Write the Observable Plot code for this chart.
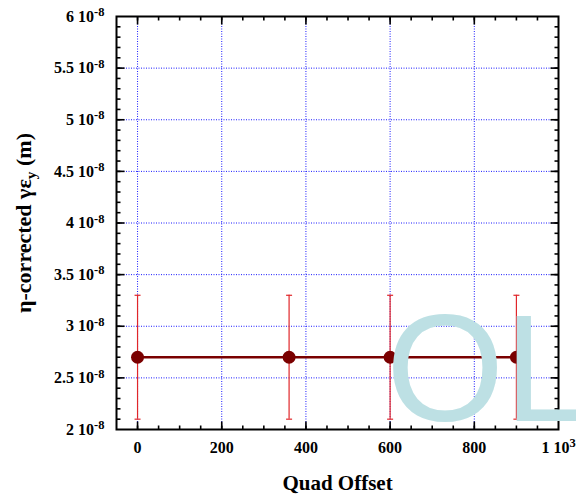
<!DOCTYPE html>
<html><head><meta charset="utf-8">
<script src="https://cdn.jsdelivr.net/npm/d3@7"></script>
<script src="https://cdn.jsdelivr.net/npm/@observablehq/plot@0.6"></script>
<style>
body{margin:0;background:#fff;}
#chart{position:relative;width:576px;height:500px;overflow:hidden;}
</style></head><body><div id="chart"></div>
<script>
// ---- data ----
const offsets   = [0, 360, 600, 900];
const emittance = [2.7e-8, 2.7e-8, 2.7e-8, 2.7e-8];
const errLow    = [2.1e-8, 2.1e-8, 2.1e-8, 2.1e-8];
const errHigh   = [3.3e-8, 3.3e-8, 3.3e-8, 3.3e-8];
const xTicks      = [0, 200, 400, 600, 800, 1000];
const xTickLabels = ["0", "200", "400", "600", "800", "1 10^{3}"];
const yTicks      = [2e-8, 2.5e-8, 3e-8, 3.5e-8, 4e-8, 4.5e-8, 5e-8, 5.5e-8, 6e-8];
const yTickLabels = ["2 10^{-8}", "2.5 10^{-8}", "3 10^{-8}", "3.5 10^{-8}", "4 10^{-8}", "4.5 10^{-8}", "5 10^{-8}", "5.5 10^{-8}", "6 10^{-8}"];
const xLabel = "Quad Offset";
const yLabel = "η-corrected γε_{y} (m)";
const watermark = "OL";

const xMinor = d3.range(0, 1000, 50);
const yMinor = d3.range(21, 60).map(k => k / 10 * 1e-8);
const xGrid = xTicks.slice(0, -1);
const yGrid = yTicks.slice(1, -1);

const data = offsets.map((x, i) => ({x, y: emittance[i], lo: errLow[i], hi: errHigh[i]}));
const xLab = new Map(xTicks.map((t, i) => [t, xTickLabels[i]]));
const yLab = new Map(yTicks.map((t, i) => [t, yTickLabels[i]]));

const seg = (dx, dy) => ({draw(ctx) { ctx.moveTo(0, 0); ctx.lineTo(dx, dy); }});
const cap = {draw(ctx) { ctx.moveTo(-3, 0); ctx.lineTo(3, 0); }};
const tickStyle = {fill: "none", stroke: "black", strokeWidth: 1.6};

const plot = Plot.plot({
  width: 576, height: 500,
  marginLeft: 116, marginRight: 18, marginTop: 16, marginBottom: 71,
  x: {domain: [-50, 1000]},
  y: {domain: [2e-8, 6e-8]},
  style: {fontFamily: "'Liberation Serif', 'Times New Roman', serif", fontWeight: "bold", background: "white", color: "black"},
  marks: [
    Plot.ruleX(xGrid, {stroke: "#1a1aff", strokeWidth: 1, strokeDasharray: "1,1.5"}),
    Plot.ruleY(yGrid, {stroke: "#1a1aff", strokeWidth: 1, strokeDasharray: "1,1.5"}),
    Plot.ruleX(data, {x: "x", y1: "lo", y2: "hi", stroke: "#e0262a", strokeWidth: 1.2}),
    Plot.dot(data, {x: "x", y: "lo", symbol: cap, fill: "none", stroke: "#e0262a", strokeWidth: 1.2}),
    Plot.dot(data, {x: "x", y: "hi", symbol: cap, fill: "none", stroke: "#e0262a", strokeWidth: 1.2}),
    Plot.line(data, {x: "x", y: "y", stroke: "#7a0000", strokeWidth: 2.5}),
    Plot.dot(data, {x: "x", y: "y", r: 6.5, fill: "#7a0000", stroke: "none"}),
    // inward ticks
    Plot.dot(xMinor, {x: d => d, y: () => 2e-8, symbol: seg(0, -4), ...tickStyle}),
    Plot.dot(xMinor, {x: d => d, y: () => 6e-8, symbol: seg(0, 4), ...tickStyle}),
    Plot.dot(xGrid, {x: d => d, y: () => 2e-8, symbol: seg(0, -8), ...tickStyle}),
    Plot.dot(xGrid, {x: d => d, y: () => 6e-8, symbol: seg(0, 8), ...tickStyle}),
    Plot.dot(yMinor, {y: d => d, x: () => -50, symbol: seg(4, 0), ...tickStyle}),
    Plot.dot(yMinor, {y: d => d, x: () => 1000, symbol: seg(-4, 0), ...tickStyle}),
    Plot.dot(yGrid, {y: d => d, x: () => -50, symbol: seg(8, 0), ...tickStyle}),
    Plot.dot(yGrid, {y: d => d, x: () => 1000, symbol: seg(-8, 0), ...tickStyle}),
    Plot.frame({stroke: "black", strokeWidth: 2}),
    Plot.axisX(xTicks, {tickSize: 0, tickPadding: 12, tickFormat: d => xLab.get(d), fontSize: 16, fontWeight: "bold", label: null}),
    Plot.axisY(yTicks, {tickSize: 0, tickPadding: 12, tickFormat: d => yLab.get(d), fontSize: 16, fontWeight: "bold", label: null}),
    Plot.text([xLabel], {frameAnchor: "bottom", dy: 60, fontSize: 21, fontWeight: "bold"}),
    Plot.text([yLabel], {frameAnchor: "left", textAnchor: "middle", dx: -93, rotate: -90, fontSize: 22, fontWeight: "bold"})
  ]
});

const NS = "http://www.w3.org/2000/svg";
function richify(node) {
  const s = node.textContent;
  if (!/[\^_]\{/.test(s)) return;
  const re = /([\^_])\{([^}]*)\}/g;
  const parts = []; let last = 0, m;
  while ((m = re.exec(s))) {
    if (m.index > last) parts.push({t: s.slice(last, m.index)});
    parts.push({t: m[2], k: m[1]});
    last = re.lastIndex;
  }
  if (last < s.length) parts.push({t: s.slice(last)});
  node.textContent = "";
  let shift = 0;
  for (const p of parts) {
    const ts = document.createElementNS(NS, "tspan");
    ts.textContent = p.t;
    const target = p.k === "^" ? -5.5 : p.k === "_" ? 5 : 0;
    ts.setAttribute("dy", target - shift);
    shift = target;
    if (p.k === "^") ts.setAttribute("font-size", "0.78em");
    if (p.k === "_") ts.setAttribute("font-size", "0.7em");
    node.appendChild(ts);
  }
}
plot.querySelectorAll("text").forEach(richify);

d3.select(plot).append("text")
  .attr("x", 386).attr("y", 421)
  .attr("text-anchor", "start")
  .attr("font-family", "'Liberation Sans', Arial, sans-serif")
  .attr("font-size", 152).attr("font-weight", "normal")
  .attr("fill", "#bde0e4")
  .text(watermark);

document.getElementById("chart").appendChild(plot);
</script></body></html>
